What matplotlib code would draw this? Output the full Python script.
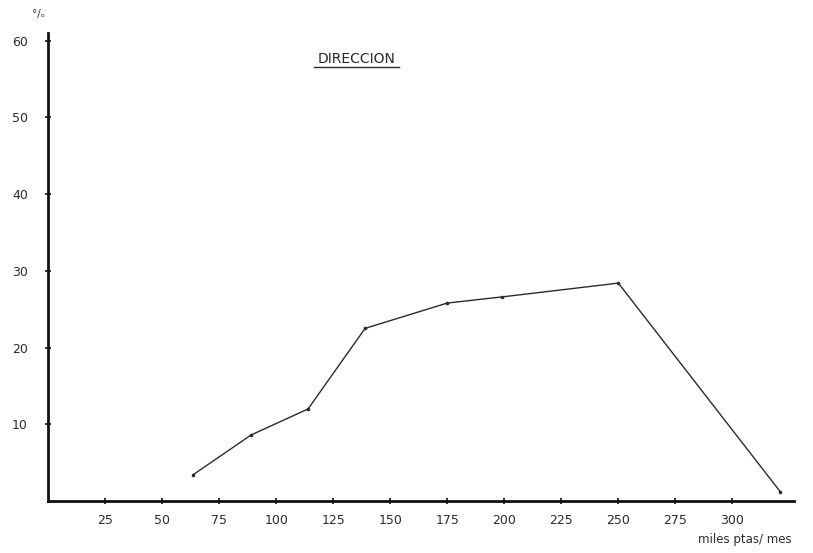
import matplotlib
matplotlib.use("Agg")
import matplotlib.pyplot as plt

# datos (miles ptas/mes vs %)
ingresos = [63.5, 89, 114, 139, 175, 199, 250, 321]
porcentaje = [3.4, 8.6, 12.0, 22.5, 25.8, 26.6, 28.4, 1.2]

x_ticks = [25, 50, 75, 100, 125, 150, 175, 200, 225, 250, 275, 300]
y_ticks = [10, 20, 30, 40, 50, 60]

TINTA = "#2b2b2b"

fig = plt.figure(figsize=(8.13, 5.53), dpi=100)
ax = fig.add_axes([48 / 813, 52 / 553, 746 / 813, 468 / 553])

ax.plot(ingresos, porcentaje, color=TINTA, lw=1.0,
        marker="o", ms=1.6, mfc=TINTA, mec=TINTA)

ax.set_xlim(0, 327)
ax.set_ylim(0, 61)

for lado in ("top", "right"):
    ax.spines[lado].set_visible(False)
for lado in ("left", "bottom"):
    ax.spines[lado].set_linewidth(2.0)
    ax.spines[lado].set_color("#111111")

ax.set_xticks(x_ticks)
ax.set_yticks(y_ticks)
ax.set_xticklabels([str(v) for v in x_ticks])
ax.set_yticklabels([str(v) for v in y_ticks])
ax.tick_params(direction="inout", length=5, width=1.2, colors="#111111",
               labelsize=9, labelcolor=TINTA)
ax.tick_params(axis="x", pad=7)
ax.tick_params(axis="y", pad=12)

# rótulos
fig.text(38 / 813, 1 - 14 / 553, "°/ₒ", fontsize=7.5, color=TINTA,
         ha="center", va="center")
ax.text(0.414, 0.944, "DIRECCION", transform=ax.transAxes, fontsize=10,
        color=TINTA, ha="center", va="center")
ax.plot([0.357, 0.471], [0.928, 0.928], transform=ax.transAxes,
        color=TINTA, lw=1.0, clip_on=False)
fig.text(745 / 813, 1 - 540 / 553, "miles ptas/ mes", fontsize=8.5,
         color=TINTA, ha="center", va="center")

fig.savefig("out.png", dpi=100, facecolor="white")
